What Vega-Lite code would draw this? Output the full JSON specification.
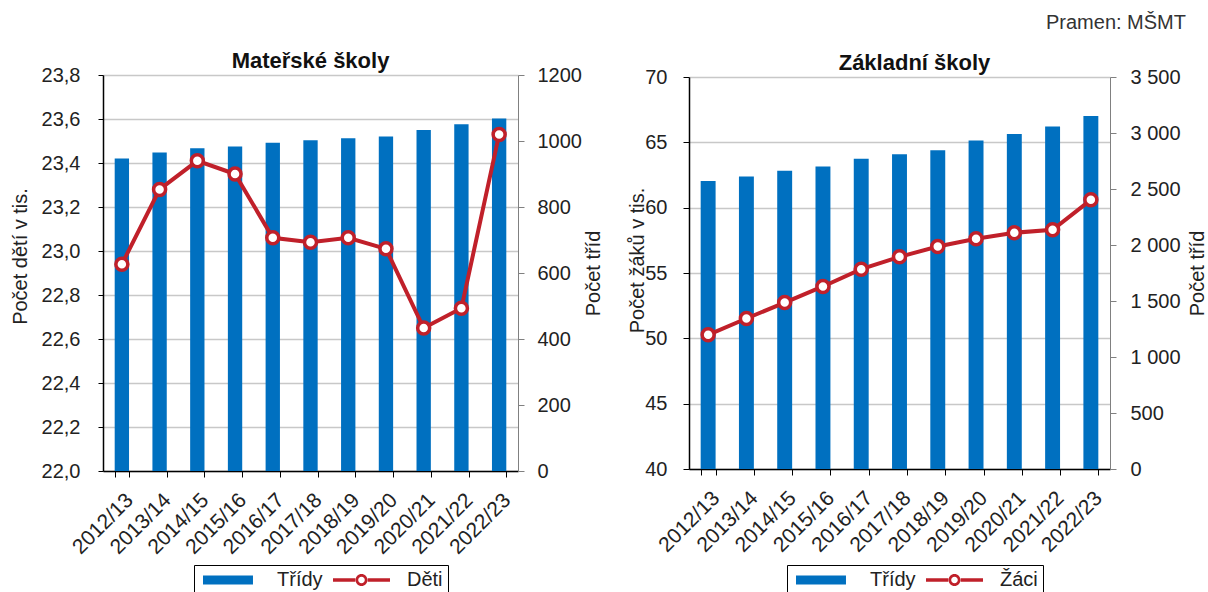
{
  "$schema": "https://vega.github.io/schema/vega-lite/v6.json",
  "background": "white",
  "padding": {"left": 10, "top": 13, "right": 0, "bottom": 0},
  "title": {"text": "Pramen: MŠMT", "anchor": "end", "fontSize": 20, "fontWeight": "normal", "color": "#333333", "dx": -21, "offset": 17},
  "datasets": {
    "ms": [
      {"rok": "2012/13", "tridy": 947, "deti": 22.94},
      {"rok": "2013/14", "tridy": 965, "deti": 23.28},
      {"rok": "2014/15", "tridy": 978, "deti": 23.41},
      {"rok": "2015/16", "tridy": 983, "deti": 23.35},
      {"rok": "2016/17", "tridy": 995, "deti": 23.06},
      {"rok": "2017/18", "tridy": 1002, "deti": 23.04},
      {"rok": "2018/19", "tridy": 1008, "deti": 23.06},
      {"rok": "2019/20", "tridy": 1014, "deti": 23.01},
      {"rok": "2020/21", "tridy": 1033, "deti": 22.65},
      {"rok": "2021/22", "tridy": 1051, "deti": 22.74},
      {"rok": "2022/23", "tridy": 1068, "deti": 23.53}
    ],
    "zs": [
      {"rok": "2012/13", "tridy": 2572, "zaci": 50.27},
      {"rok": "2013/14", "tridy": 2611, "zaci": 51.52},
      {"rok": "2014/15", "tridy": 2664, "zaci": 52.74},
      {"rok": "2015/16", "tridy": 2700, "zaci": 53.97},
      {"rok": "2016/17", "tridy": 2771, "zaci": 55.29},
      {"rok": "2017/18", "tridy": 2810, "zaci": 56.24},
      {"rok": "2018/19", "tridy": 2845, "zaci": 57.03},
      {"rok": "2019/20", "tridy": 2934, "zaci": 57.62},
      {"rok": "2020/21", "tridy": 2991, "zaci": 58.08},
      {"rok": "2021/22", "tridy": 3059, "zaci": 58.31},
      {"rok": "2022/23", "tridy": 3151, "zaci": 60.6}
    ]
  },
  "spacing": 171,
  "bounds": "flush",
  "center": true,
  "hconcat": [
    {
      "width": 415,
      "height": 396,
      "data": {"name": "ms"},
      "title": {"text": "Mateřské školy", "fontSize": 22, "fontWeight": "bold", "color": "#111111", "offset": -8},
      "encoding": {
        "x": {"field": "rok", "type": "nominal", "sort": null,
          "scale": {"paddingInner": 0.62, "paddingOuter": 0.31},
          "axis": {"title": null, "labelAngle": -45, "labelFontSize": 21, "labelColor": "#222222", "tickBand": "extent", "tickSize": 6, "tickColor": "#000000", "domainColor": "#000000", "domainWidth": 1.5, "labelPadding": 12}}
      },
      "layer": [
        {
          "mark": {"type": "bar", "color": "#0070C0"},
          "encoding": {
            "y": {"field": "tridy", "type": "quantitative",
              "scale": {"domain": [0, 1200], "nice": false, "zero": true},
              "axis": {"orient": "right", "values": [0, 200, 400, 600, 800, 1000, 1200], "labelExpr": "format(datum.value, 'd')", "grid": false, "title": "Počet tříd", "titleX": 75, "titleAngle": 270, "titleBaseline": "middle", "titleFontSize": 20, "titleFontWeight": "normal", "titleColor": "#222222", "labelFontSize": 20, "labelColor": "#222222", "tickSize": 6, "labelPadding": 13, "domainColor": "#808080", "tickColor": "#808080"}},
            "color": {"datum": "Třídy",
              "scale": {"domain": ["Třídy", "Děti"], "range": ["#0070C0", "#C0202A"]},
              "legend": {"orient": "none", "legendX": 91, "legendY": 490, "direction": "horizontal", "title": null, "strokeColor": "#000000", "padding": 5, "columnPadding": 6, "symbolSize": 144, "symbolStrokeWidth": 0, "labelOffset": 58, "labelFontSize": 20, "labelColor": "#222222",
                "encode": {"symbols": {"update": {
                  "shape": {"signal": "datum.value == 'Třídy' ? 'M-1,-0.75H7.33V0.75H-1Z' : 'M-1,-0.3H2.7V0.3H-1Z M4.8,-0.3H8.5V0.3H4.8Z M3.75,-1A1,1 0 1,1 3.75,1A1,1 0 1,1 3.75,-1Z M3.75,-0.55A0.55,0.55 0 1,0 3.75,0.55A0.55,0.55 0 1,0 3.75,-0.55Z'"}
                }}}}}
          }
        },
        {
          "mark": {"type": "line", "strokeWidth": 4, "point": {"filled": false, "fill": "white", "size": 144, "strokeWidth": 3.5}},
          "encoding": {
            "y": {"field": "deti", "type": "quantitative",
              "scale": {"domain": [22, 23.8], "nice": false, "zero": false},
              "axis": {"orient": "left", "values": [22, 22.2, 22.4, 22.6, 22.8, 23, 23.2, 23.4, 23.6, 23.8], "labelExpr": "replace(format(datum.value, '.1f'), '.', ',')", "grid": true, "gridColor": "#C8C8C8", "gridWidth": 1.5, "title": "Počet dětí v tis.", "titleX": -83, "titleY": 181, "titleAngle": 270, "titleBaseline": "middle", "titleFontSize": 20, "titleFontWeight": "normal", "titleColor": "#222222", "labelFontSize": 20, "labelColor": "#222222", "tickSize": 5, "labelPadding": 18, "domainColor": "#000000", "domainWidth": 1.5, "tickColor": "#000000"}},
            "color": {"datum": "Děti"}
          }
        }
      ],
      "resolve": {"scale": {"y": "independent"}}
    },
    {
      "width": 421,
      "height": 392,
      "data": {"name": "zs"},
      "title": {"text": "Základní školy", "fontSize": 22, "fontWeight": "bold", "color": "#111111", "offset": -8, "dx": 15},
      "encoding": {
        "x": {"field": "rok", "type": "nominal", "sort": null,
          "scale": {"paddingInner": 0.61, "paddingOuter": 0.305},
          "axis": {"title": null, "labelAngle": -45, "labelFontSize": 21, "labelColor": "#222222", "tickBand": "extent", "tickSize": 6, "tickColor": "#000000", "domainColor": "#000000", "domainWidth": 1.5, "labelPadding": 12}}
      },
      "layer": [
        {
          "mark": {"type": "bar", "color": "#0070C0"},
          "encoding": {
            "y": {"field": "tridy", "type": "quantitative",
              "scale": {"domain": [0, 3500], "nice": false, "zero": true},
              "axis": {"orient": "right", "values": [0, 500, 1000, 1500, 2000, 2500, 3000, 3500], "labelExpr": "replace(format(datum.value, ','), ',', ' ')", "grid": false, "title": "Počet tříd", "titleX": 87, "titleAngle": 270, "titleBaseline": "middle", "titleFontSize": 20, "titleFontWeight": "normal", "titleColor": "#222222", "labelFontSize": 20, "labelColor": "#222222", "tickSize": 6, "labelPadding": 14, "domainColor": "#808080", "tickColor": "#808080"}},
            "color": {"datum": "Třídy",
              "scale": {"domain": ["Třídy", "Žáci"], "range": ["#0070C0", "#C0202A"]},
              "legend": {"orient": "none", "legendX": 98, "legendY": 488, "direction": "horizontal", "title": null, "strokeColor": "#000000", "padding": 5, "columnPadding": 6, "symbolSize": 144, "symbolStrokeWidth": 0, "labelOffset": 58, "labelFontSize": 20, "labelColor": "#222222",
                "encode": {"symbols": {"update": {
                  "shape": {"signal": "datum.value == 'Třídy' ? 'M-1,-0.75H7.33V0.75H-1Z' : 'M-1,-0.3H2.7V0.3H-1Z M4.8,-0.3H8.5V0.3H4.8Z M3.75,-1A1,1 0 1,1 3.75,1A1,1 0 1,1 3.75,-1Z M3.75,-0.55A0.55,0.55 0 1,0 3.75,0.55A0.55,0.55 0 1,0 3.75,-0.55Z'"}
                }}}}}
          }
        },
        {
          "mark": {"type": "line", "strokeWidth": 4, "point": {"filled": false, "fill": "white", "size": 144, "strokeWidth": 3.5}},
          "encoding": {
            "y": {"field": "zaci", "type": "quantitative",
              "scale": {"domain": [40, 70], "nice": false, "zero": false},
              "axis": {"orient": "left", "values": [40, 45, 50, 55, 60, 65, 70], "grid": true, "gridColor": "#C8C8C8", "gridWidth": 1.5, "title": "Počet žáků v tis.", "titleX": -52, "titleY": 183, "titleAngle": 270, "titleBaseline": "middle", "titleFontSize": 20, "titleFontWeight": "normal", "titleColor": "#222222", "labelFontSize": 20, "labelColor": "#222222", "tickSize": 6, "labelPadding": 16, "domainColor": "#000000", "domainWidth": 1.5, "tickColor": "#000000"}},
            "color": {"datum": "Žáci"}
          }
        }
      ],
      "resolve": {"scale": {"y": "independent"}}
    }
  ],
  "resolve": {"scale": {"color": "independent"}, "legend": {"color": "independent"}},
  "config": {
    "font": "Liberation Sans",
    "view": {"stroke": null}
  }
}
